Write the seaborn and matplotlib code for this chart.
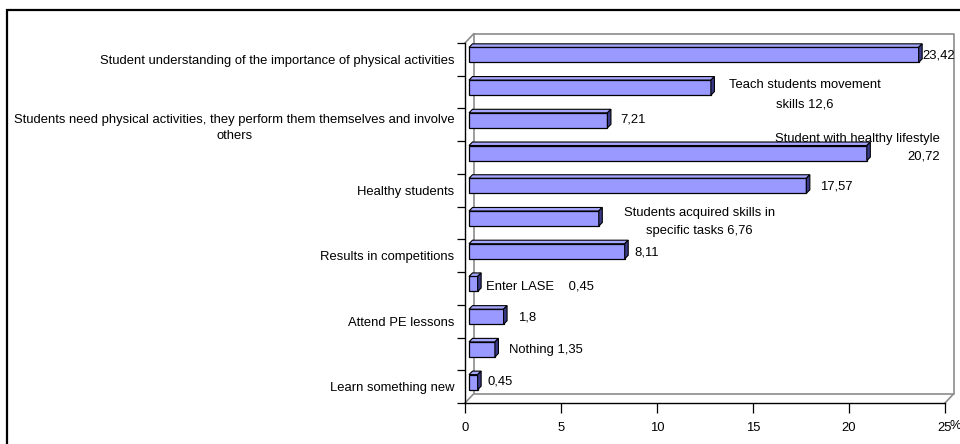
import matplotlib
matplotlib.use("Agg")
import matplotlib.pyplot as plt
import matplotlib.transforms as mtransforms
from matplotlib.lines import Line2D
from matplotlib.patches import Polygon, Rectangle
import pandas as pd
import seaborn as sns

# ---- data -------------------------------------------------------------
categories = [
    "Student understanding of the importance of physical activities",
    "Teach students movement skills",
    "Students need physical activities, they perform them themselves and involve others",
    "Student with healthy lifestyle",
    "Healthy students",
    "Students acquired skills in specific tasks",
    "Results in competitions",
    "Enter LASE",
    "Attend PE lessons",
    "Nothing",
    "Learn something new",
]
values = [23.42, 12.6, 7.21, 20.72, 17.57, 6.76, 8.11, 0.45, 1.8, 1.35, 0.45]

# category names shown on the axis (the others are written beside their bars)
axis_labels = [
    "Student understanding of the importance of physical activities",
    "",
    "Students need physical activities, they perform them themselves and involve\nothers",
    "",
    "Healthy students",
    "",
    "Results in competitions",
    "",
    "Attend PE lessons",
    "",
    "Learn something new",
]
value_labels = [
    "{v}",
    "Teach students movement\nskills {v}",
    "{v}",
    "Student with healthy lifestyle\n{v}",
    "{v}",
    "Students acquired skills in\nspecific tasks {v}",
    "{v}",
    "Enter LASE    {v}",
    "{v}",
    "Nothing {v}",
    "{v}",
]
x_ticks = [0, 5, 10, 15, 20, 25]
x_unit = "%"

# ---- styling ----------------------------------------------------------
BAR = "#9999FF"
BAR_TOP = "#A6A6FF"
BAR_SIDE = "#3A3A88"
WALL = "#8C8C8C"
FACE_SHIFT = (4.0, 4.5)    # bar front faces sit half-way into the depth
BAR_DEPTH = (3.5, 3.5)
WALL_DEPTH = (8.5, 9.0)

# label offsets in pixels from each bar end: (dx, dy, alignment, line spacing)
label_place = [
    (8, 4, "left", 1.2), (98, -3, "center", 1.8), (17, 5, "left", 1.2),
    (77, 10, "right", 1.6), (18, 4, "left", 1.2), (105, 1, "center", 1.75),
    (14, 3, "left", 1.2), (12, 2, "left", 1.2), (18, 4, "left", 1.2),
    (18, 4, "left", 1.2), (14, 5, "left", 1.2),
]

plt.rcParams["font.family"] = ["Liberation Sans", "DejaVu Sans"]
FS = 9.4

fig = plt.figure(figsize=(9.6, 4.44), dpi=100)
W, H = 960, 444
ax = fig.add_axes([465 / W, 41 / H, 480 / W, 360 / H])

df = pd.DataFrame({"category": categories, "value": values})
sns.barplot(data=df, x="value", y="category", orient="h", order=categories,
            color=BAR, saturation=1, width=0.46, edgecolor="black",
            linewidth=0.9, ax=ax, zorder=3)

ax.set_xlim(0, 25)
ax.set_ylim(len(categories) - 0.5, -0.5)
ax.set_xlabel("")
ax.set_ylabel("")

# axis ticks: boundaries as major ticks, names on minor positions
ax.set_yticks([i - 0.5 for i in range(len(categories) + 1)])
ax.set_yticklabels([])
ax.set_yticks(range(len(categories)), minor=True)
ax.set_yticklabels(axis_labels, minor=True, fontsize=FS, ha="right",
                   multialignment="center", linespacing=1.4)
ax.tick_params(axis="y", which="major", length=5.8, width=0.9, color="black")
ax.tick_params(axis="y", which="minor", length=0, pad=7.6)
ax.set_xticks(x_ticks)
ax.set_xticklabels([str(t) for t in x_ticks], fontsize=FS)
ax.tick_params(axis="x", length=7.2, width=0.9, pad=6.2, color="black")

for s in ("top", "right"):
    ax.spines[s].set_visible(False)
for s in ("left", "bottom"):
    ax.spines[s].set_color("black")
    ax.spines[s].set_linewidth(1.0)
    ax.spines[s].set_zorder(6)

ax.annotate(x_unit, xy=(1, 0), xycoords="axes fraction", xytext=(4, -23),
            textcoords="offset pixels", ha="left", va="center", fontsize=FS)

ident = mtransforms.IdentityTransform()

# back wall and floor edges
(fx0, fy0) = ax.transAxes.transform((0, 0))
(fx1, fy1) = ax.transAxes.transform((1, 1))
dx, dy = WALL_DEPTH
bx0, by0, bx1, by1 = fx0 + dx, fy0 + dy, fx1 + dx, fy1 + dy
wall_segments = [
    ([bx0, bx1, bx1, bx0, bx0], [by1, by1, by0, by0, by1]),
    ([fx0, bx0], [fy1, by1]),
    ([fx0, bx0], [fy0, by0]),
    ([fx1, bx1], [fy0, by0]),
]
for xs, ys in wall_segments:
    ax.add_line(Line2D(xs, ys, color=WALL, lw=1.2, transform=ident,
                       clip_on=False, zorder=1))

# extruded bars: front face shifted back, plus top and side faces
shift = mtransforms.Affine2D().translate(*FACE_SHIFT)
ddx, ddy = BAR_DEPTH
for p in list(ax.patches)[:len(categories)]:
    p.set_transform(ax.transData + shift)
    x0, y0 = p.get_x(), p.get_y()
    x1, y1 = x0 + p.get_width(), y0 + p.get_height()
    (ax0, ay0), (ax1, ay1) = ax.transData.transform([(x0, y0), (x1, y1)])
    L, R = min(ax0, ax1) + FACE_SHIFT[0], max(ax0, ax1) + FACE_SHIFT[0]
    B, T = min(ay0, ay1) + FACE_SHIFT[1], max(ay0, ay1) + FACE_SHIFT[1]
    top = Polygon([(L, T), (R, T), (R + ddx, T + ddy), (L + ddx, T + ddy)],
                  closed=True, facecolor=BAR_TOP, edgecolor="black",
                  lw=0.8, transform=ident, clip_on=False, zorder=3)
    side = Polygon([(R, B), (R, T), (R + ddx, T + ddy), (R + ddx, B + ddy)],
                   closed=True, facecolor=BAR_SIDE, edgecolor="black",
                   lw=0.8, transform=ident, clip_on=False, zorder=3)
    ax.add_patch(top)
    ax.add_patch(side)


def fmt(v):
    return f"{v:g}".replace(".", ",")


for i, (v, tmpl, (ox, oy, ha, ls)) in enumerate(zip(values, value_labels, label_place)):
    ax.annotate(tmpl.format(v=fmt(v)), xy=(v, i), xycoords="data",
                xytext=(ox, oy), textcoords="offset pixels", ha=ha,
                va="center", multialignment=ha, linespacing=ls, fontsize=FS,
                annotation_clip=False, zorder=5)

# outer chart frame
fig.add_artist(Rectangle((7 / W, -0.2), 1.5, (H - 10) / H + 0.2,
                         transform=fig.transFigure, fill=False,
                         edgecolor="black", lw=1.6))

fig.savefig("out.png", dpi=100)
